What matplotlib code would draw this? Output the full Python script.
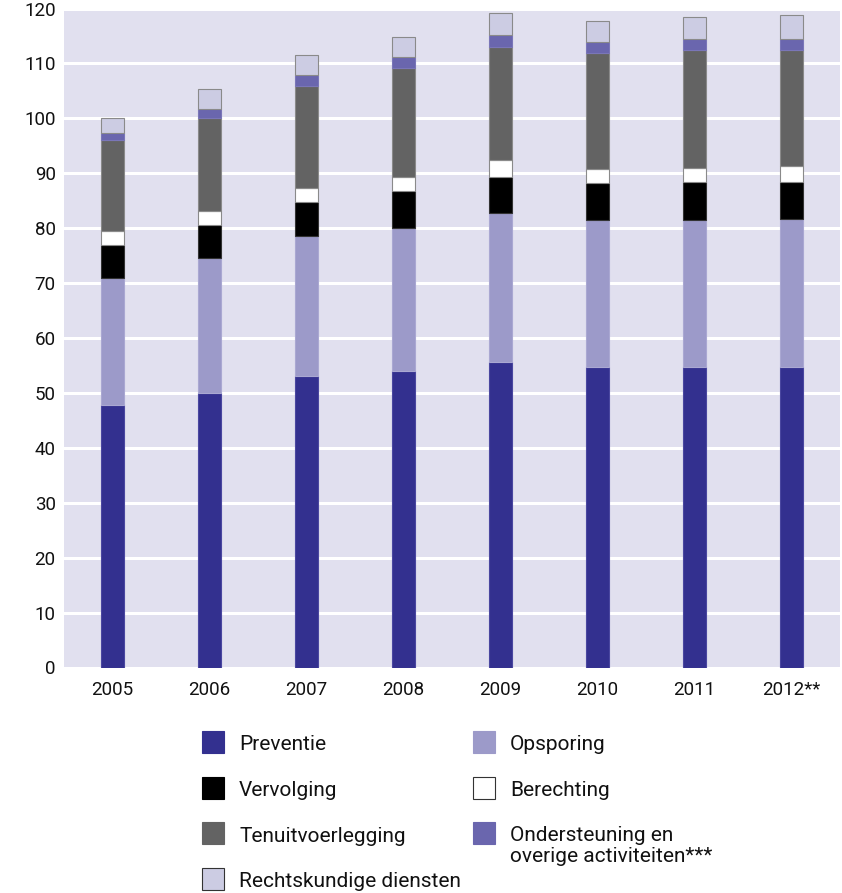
import matplotlib.pyplot as plt
import numpy as np
from matplotlib.patches import Rectangle

plt.rcParams["font.family"] = ["Roboto", "DejaVu Sans"]

# Data
years = ["2005", "2006", "2007", "2008", "2009", "2010", "2011", "2012**"]

preventie = [47.8, 50.0, 53.1, 54.0, 55.6, 54.7, 54.7, 54.7]
opsporing = [23.1, 24.6, 25.4, 26.1, 27.2, 26.8, 26.8, 27.0]
vervolging = [6.0, 5.9, 6.3, 6.7, 6.6, 6.7, 6.9, 6.7]
berechting = [2.6, 2.6, 2.6, 2.6, 3.0, 2.5, 2.6, 3.0]
tenuitvoerlegging = [16.5, 16.9, 18.5, 19.8, 20.5, 21.2, 21.5, 21.1]
ondersteuning = [1.4, 1.7, 2.0, 2.0, 2.3, 2.0, 2.0, 2.0]
rechtskundig = [2.6, 3.6, 3.6, 3.6, 4.0, 3.9, 4.0, 4.4]

series = [
    ("Preventie", preventie, "#33308f", "#4a47a0"),
    ("Opsporing", opsporing, "#9c9ac9", "#aaa8d2"),
    ("Vervolging", vervolging, "#000000", "#333333"),
    ("Berechting", berechting, "#ffffff", "#8a8a8a"),
    ("Tenuitvoerlegging", tenuitvoerlegging, "#636363", "#8a8a8a"),
    ("Ondersteuning en\noverige activiteiten***", ondersteuning, "#6a66ae", "#7a76b8"),
    ("Rechtskundige diensten", rechtskundig, "#cccce3", "#8a8a8a"),
]

W, H = 842, 893
fig = plt.figure(figsize=(W / 100, H / 100), dpi=100)
ax = fig.add_axes([64 / W, 1 - 667.5 / H, (840 - 64) / W, (667.5 - 8.5) / H])
ax.set_facecolor("#e1e0ef")

x = np.arange(len(years))
bottom = np.zeros(len(years))
for name, vals, color, edge in series:
    ax.bar(x, vals, width=0.235, bottom=bottom, color=color,
           edgecolor=edge, linewidth=0.8, zorder=3)
    bottom += np.array(vals)

# Axes styling
ax.set_xlim(-0.5, 7.5)
ax.set_ylim(0, 120)
ax.set_yticks(np.arange(0, 121, 10))
ax.set_xticks(x)
ax.set_xticklabels(years)
ax.grid(axis="y", color="white", linewidth=2.2, zorder=1)
ax.set_axisbelow(True)
for s in ax.spines.values():
    s.set_visible(False)
ax.tick_params(axis="both", length=0, labelsize=13.5, colors="#111111")
ax.tick_params(axis="y", pad=6)
ax.tick_params(axis="x", pad=10)

# Legend drawn by hand in two columns
sq = 22
col_sq = [202, 473]
col_txt = [239, 510]
row_y = [742, 787.5, 833, 878.5]
layout = [(0, 0), (1, 0), (0, 1), (1, 1), (0, 2), (1, 2), (0, 3)]
for (name, vals, color, edge), (c, r) in zip(series, layout):
    cy = row_y[r]
    fig.add_artist(Rectangle((col_sq[c] / W, 1 - (cy + sq / 2) / H), sq / W, sq / H,
                             transform=fig.transFigure, facecolor=color,
                             edgecolor="#333333" if color in ("#ffffff", "#cccce3") else color,
                             linewidth=0.8))
    if "\n" in name:
        fig.text(col_txt[c] / W, 1 - (cy - 7) / H, name, fontsize=15,
                 va="top", ha="left", color="#111111", linespacing=1.1)
    else:
        fig.text(col_txt[c] / W, 1 - (cy + 3) / H, name, fontsize=15,
                 va="center", ha="left", color="#111111")

fig.savefig("out.png", dpi=100)
